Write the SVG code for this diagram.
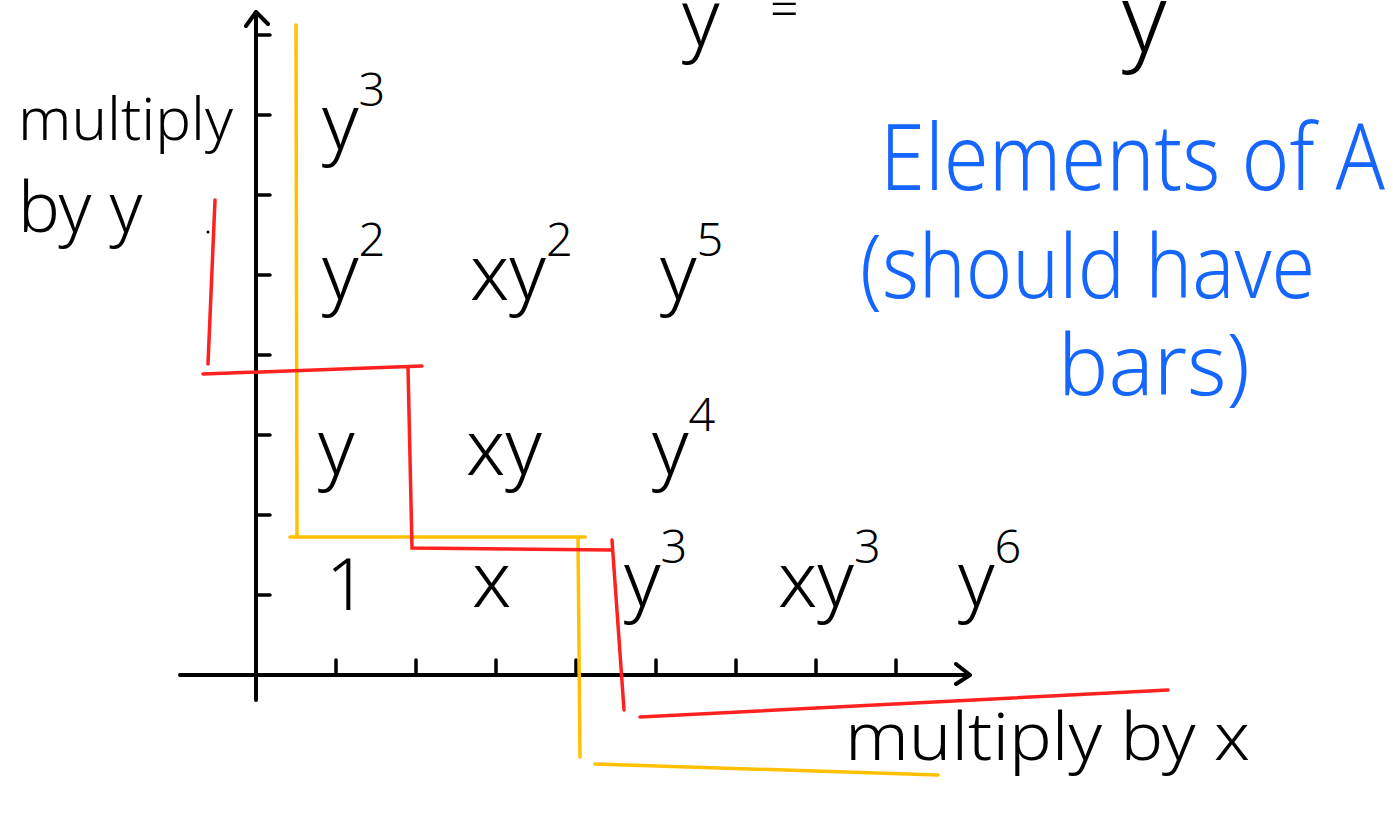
<svg xmlns="http://www.w3.org/2000/svg" width="1393" height="820" viewBox="0 0 1393 820">
<style>
.ax{stroke:#000;stroke-width:4;fill:none;stroke-linecap:round;stroke-linejoin:round}
.tk{stroke:#000;stroke-width:3.5;fill:none;stroke-linecap:round}
.or{stroke:#FFC000;stroke-width:3.5;fill:none;stroke-linecap:round}
.rd{stroke:#FF2020;stroke-width:3.5;fill:none;stroke-linecap:round}
.t{font-family:"Noto Sans","DejaVu Sans",sans-serif;font-weight:300;fill:#000}
.b{font-family:"Noto Sans","DejaVu Sans",sans-serif;font-weight:300;fill:#1565FF}
.sup{font-size:0.6em}
</style>
<rect width="1393" height="820" fill="#fff"/>
<g id="axes">
<path class="ax" d="M256,700 L256,12 M246,26 L256,12 L268,24"/>
<path class="ax" d="M180,675 L968,675 M956,664 L970,675 L956,684"/>
<path class="tk" d="M256,35 H270 M256,115 H270 M256,195 H270 M256,275 H270 M256,355 H270 M256,435 H270 M256,515 H270 M256,595 H270"/>
<path class="tk" d="M336,675 V660 M416,675 V660 M496,675 V660 M576,675 V660 M656,675 V660 M736,675 V660 M816,675 V660 M896,675 V660"/>
</g>
<g id="connectors">
<path class="or" d="M296,25 L297,537 M290,537 L585,537 M578,537 L580,757 M595,764 L938,775"/>
<path class="rd" d="M215,200 L208,364 M203,374 L422,366 M408,367 L412,548 L612,550 M612,540 L624,710 M640,717 L1168,690"/>
</g>
<g id="top-fragment">
<text class="t" x="682" y="46" font-size="80">y</text>
<text class="t" x="770" y="26" font-size="50">=</text>
<text class="t" x="1122" y="52" font-size="95">y</text>
</g>
<g id="label-multiply-y">
<text class="t" x="18" y="140" font-size="58" textLength="215" lengthAdjust="spacingAndGlyphs">multiply</text>
<text class="t" x="18" y="232" font-size="70">by y</text>
<circle cx="208" cy="232" r="1.5" fill="#000"/>
</g>
<g id="label-multiply-x">
<text class="t" x="845" y="760" font-size="66" textLength="405" lengthAdjust="spacingAndGlyphs">multiply by x</text>
</g>
<g id="row3">
<text class="t" x="322" y="150" font-size="78">y<tspan class="sup" dy="-44">3</tspan></text>
</g>
<g id="row2">
<text class="t" x="322" y="300" font-size="78">y<tspan class="sup" dy="-44">2</tspan></text>
<text class="t" x="470" y="300" font-size="78">xy<tspan class="sup" dy="-44">2</tspan></text>
<text class="t" x="660" y="300" font-size="78">y<tspan class="sup" dy="-44">5</tspan></text>
</g>
<g id="row1">
<text class="t" x="318" y="475" font-size="78">y</text>
<text class="t" x="466" y="475" font-size="78">xy</text>
<text class="t" x="652" y="475" font-size="78">y<tspan class="sup" dy="-44">4</tspan></text>
</g>
<g id="row0">
<text class="t" x="326" y="610" font-size="72">1</text>
<text class="t" x="472" y="607" font-size="78">x</text>
<text class="t" x="624" y="607" font-size="78">y<tspan class="sup" dy="-44">3</tspan></text>
<text class="t" x="778" y="607" font-size="78">xy<tspan class="sup" dy="-44">3</tspan></text>
<text class="t" x="958" y="607" font-size="78">y<tspan class="sup" dy="-44">6</tspan></text>
</g>
<g id="note">
<text class="b" x="880" y="190" font-size="92" textLength="505" lengthAdjust="spacingAndGlyphs">Elements of A</text>
<text class="b" x="860" y="298" font-size="88" textLength="455" lengthAdjust="spacingAndGlyphs">(should have</text>
<text class="b" x="1058" y="395" font-size="84" textLength="192" lengthAdjust="spacingAndGlyphs">bars)</text>
</g>
</svg>
